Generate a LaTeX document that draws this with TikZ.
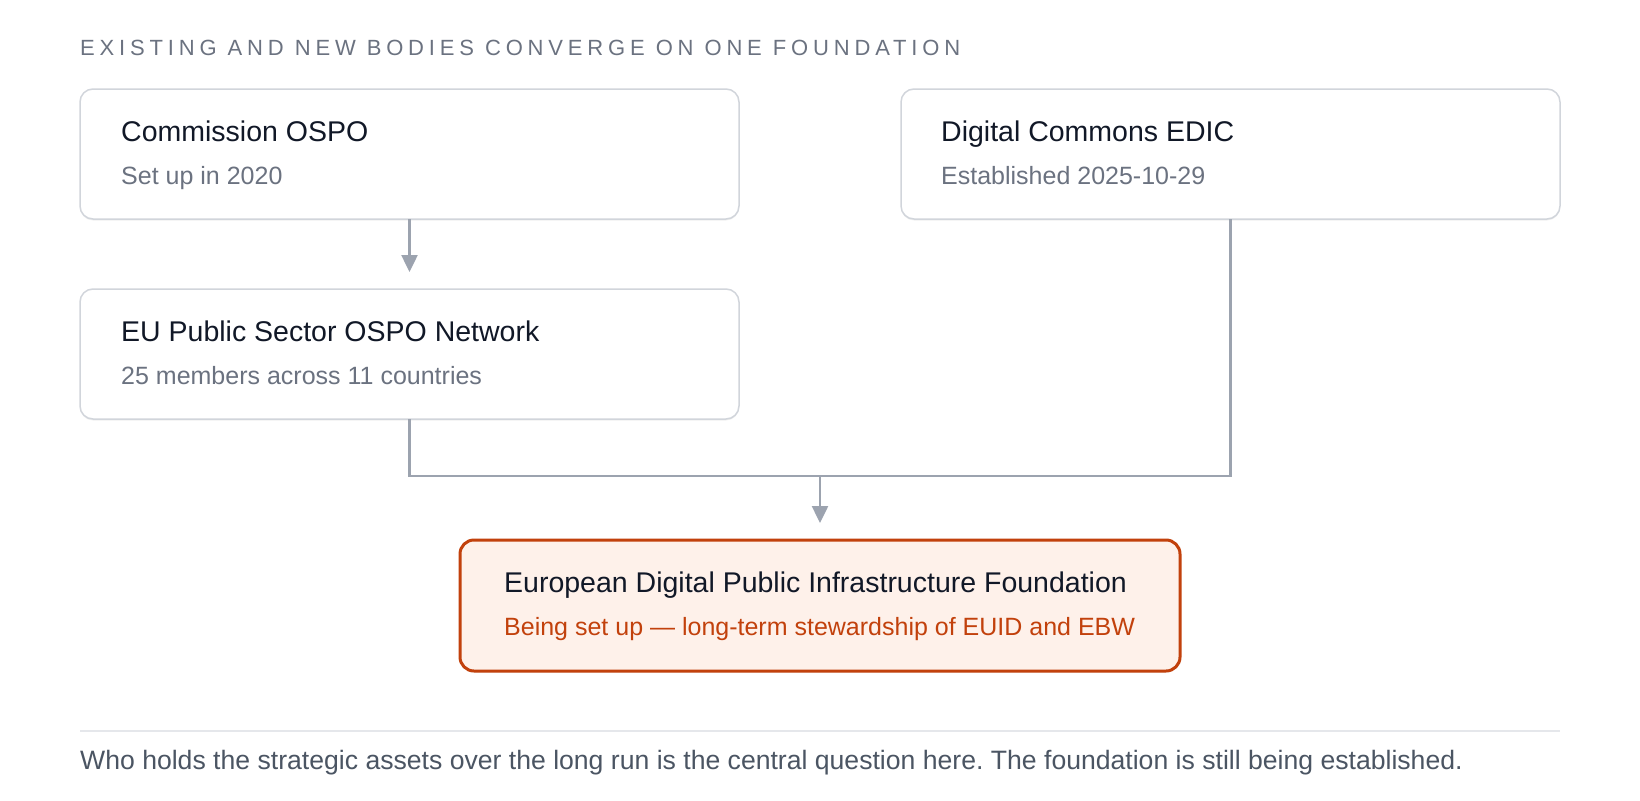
\documentclass[tikz,border=0pt]{standalone}
\usepackage{fontspec}
\setmainfont{Liberation Sans}
\usetikzlibrary{arrows.meta,shadows,calc}
\definecolor{headgray}{HTML}{6B7280}
\definecolor{titleink}{HTML}{111827}
\definecolor{subgray}{HTML}{6B7280}
\definecolor{boxline}{HTML}{D1D5DB}
\definecolor{connline}{HTML}{9CA3AF}
\definecolor{foundfill}{HTML}{FEF1EA}
\definecolor{foundline}{HTML}{C2410C}
\definecolor{sepline}{HTML}{E5E7EB}
\definecolor{footink}{HTML}{4B5563}
\tikzset{
  card/.style={draw=boxline, line width=1.5pt, fill=white, rounded corners=13pt,
    anchor=north west, inner sep=0pt, outer sep=0pt, minimum width=659pt, minimum height=130pt,
    drop shadow={shadow xshift=0pt, shadow yshift=-1.5pt, opacity=0.06, fill=black}},
  keycard/.style={card, draw=foundline, line width=3pt, fill=foundfill,
    rounded corners=14pt, minimum width=720pt, minimum height=131pt},
  cardtitle/.style={anchor=base west, inner sep=0pt, text=titleink,
    font=\fontsize{28.5pt}{34pt}\selectfont},
  cardsub/.style={anchor=base west, inner sep=0pt, text=subgray,
    font=\fontsize{25pt}{30pt}\selectfont},
  keysub/.style={cardsub, text=foundline},
  link/.style={draw=connline, line width=2.5pt},
  arrowlink/.style={link, -{Triangle[width=16pt,length=17pt]}},
  heading/.style={anchor=base west, inner sep=0pt, text=headgray,
    font=\fontsize{22pt}{26pt}\selectfont\addfontfeature{LetterSpace=22}},
  footnote/.style={anchor=base west, inner sep=0pt, text=footink,
    font=\fontsize{26.6pt}{31pt}\selectfont\frenchspacing},
}
\begin{document}
\begin{tikzpicture}[x=1pt,y=-1pt]
\useasboundingbox[fill=white] (0,0) rectangle (1640,800);

\node[heading] (head) at (80,55.5) {EXISTING AND NEW BODIES CONVERGE ON ONE FOUNDATION};

% cards
\node[card] (ospo) at (80,89) {};
\node[card] (edic) at (901,89) {};
\node[card] (net) at (80,289) {};
\node[keycard] (found) at (460,540) {};

\node[cardtitle] (ospoT) at ($(ospo.north west)+(41,52)$) {Commission OSPO};
\node[cardsub] (ospoS) at ($(ospo.north west)+(41,95)$) {Set up in 2020};

\node[cardtitle] (edicT) at ($(edic.north west)+(40,52)$) {Digital Commons EDIC};
\node[cardsub] (edicS) at ($(edic.north west)+(40,95)$) {Established 2025-10-29};

\node[cardtitle] (netT) at ($(net.north west)+(41,52)$) {EU Public Sector OSPO Network};
\node[cardsub] (netS) at ($(net.north west)+(41,95)$) {25 members across 11 countries};

\node[cardtitle] (foundT) at ($(found.north west)+(44,52)$) {European Digital Public Infrastructure Foundation};
\node[keysub] (foundS) at ($(found.north west)+(44,95)$) {Being set up — long-term stewardship of EUID and EBW};

% connectors
\coordinate (join) at (820,476);
\draw[arrowlink, shorten >=17pt] (ospo.south) -- (net.north);
\draw[link] (net.south) |- (join) -| (edic.south);
\draw[arrowlink, shorten >=17pt] (join) -- (found.north);

% separator and footnote
\coordinate (sepL) at (80,731);
\coordinate (sepR) at (1560,731);
\draw[draw=sepline, line width=2pt] (sepL) -- (sepR);
\node[footnote] (foot) at (80,769) {Who holds the strategic assets over the long run is the central question here. The foundation is still being established.};
\end{tikzpicture}
\end{document}
